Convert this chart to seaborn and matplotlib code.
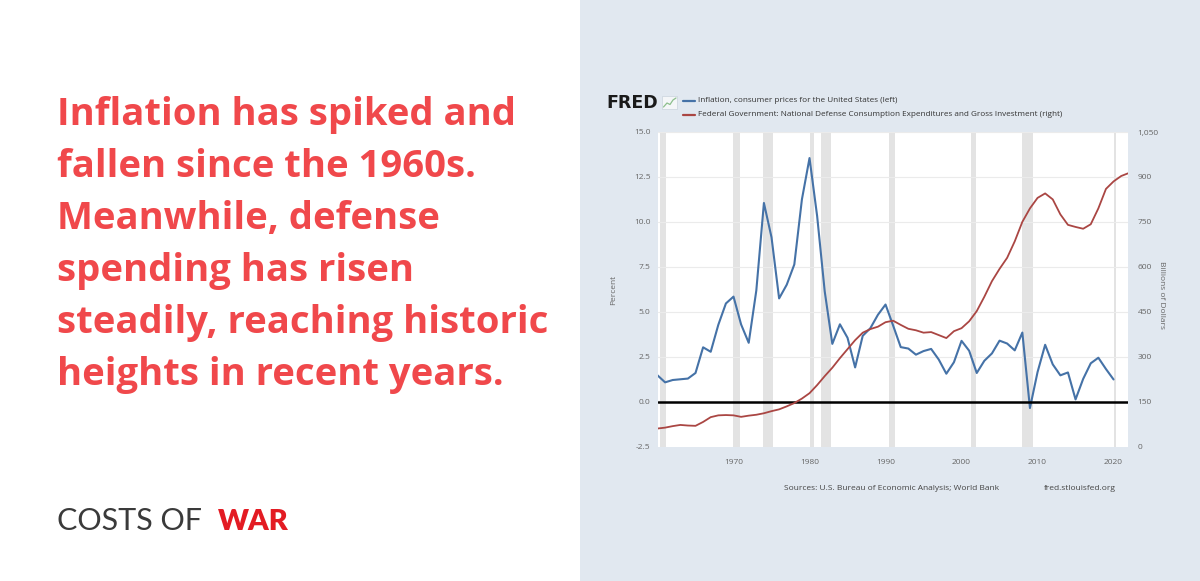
import matplotlib
matplotlib.use("Agg")
import matplotlib.pyplot as plt
import seaborn as sns
import pandas as pd
from matplotlib.patches import Rectangle
from matplotlib.lines import Line2D

# ---------------- data ----------------
infl_years = list(range(1960, 2021))
inflation = [1.46, 1.07, 1.20, 1.24, 1.28, 1.59, 3.02, 2.77, 4.27, 5.46,
             5.84, 4.29, 3.27, 6.18, 11.05, 9.14, 5.74, 6.50, 7.63, 11.25,
             13.55, 10.33, 6.13, 3.21, 4.30, 3.55, 1.90, 3.66, 4.08, 4.83,
             5.40, 4.23, 3.03, 2.95, 2.61, 2.81, 2.93, 2.34, 1.55, 2.19,
             3.38, 2.83, 1.59, 2.27, 2.68, 3.39, 3.23, 2.85, 3.84, -0.36,
             1.64, 3.16, 2.07, 1.46, 1.62, 0.12, 1.26, 2.13, 2.44, 1.81, 1.23]

def_years = list(range(1960, 2022)) + [2021.9]
defense = [60, 63, 68, 72, 70, 69, 82, 98, 104, 105,
           104, 99, 103, 106, 111, 118, 124, 134, 145, 160,
           178, 205, 235, 263, 295, 325, 355, 380, 392, 400,
           415, 420, 406, 393, 388, 380, 382, 372, 362, 385,
           395, 418, 452, 500, 552, 593, 630, 685, 750, 795,
           830, 845, 825, 775, 740, 733, 727, 742, 795, 860,
           885, 903, 912]

recessions = [(1960.3, 1961.1), (1969.9, 1970.85), (1973.85, 1975.2),
              (1980.0, 1980.55), (1981.5, 1982.85), (1990.5, 1991.2),
              (2001.2, 2001.85), (2007.9, 2009.45), (2020.1, 2020.3)]

left_ticks = [-2.5, 0.0, 2.5, 5.0, 7.5, 10.0, 12.5, 15.0]
right_ticks = [0, 150, 300, 450, 600, 750, 900, 1050]
x_ticks = [1970, 1980, 1990, 2000, 2010, 2020]

title_lines = ["Inflation has spiked and",
               "fallen since the 1960s.",
               "Meanwhile, defense",
               "spending has risen",
               "steadily, reaching historic",
               "heights in recent years."]

infl_df = pd.DataFrame({"year": infl_years, "value": inflation})
def_df = pd.DataFrame({"year": def_years, "value": defense})

# ---------------- style ----------------
sns.set_theme(style="white")
plt.rcParams["font.family"] = ["Open Sans", "DejaVu Sans"]

W, H = 1200, 581
fig = plt.figure(figsize=(12, 5.81), dpi=100)
fig.patch.set_facecolor("white")

def fx(x):
    return x / W

def fy(y):
    return 1 - y / H

# right panel background
fig.patches.append(Rectangle((fx(580), 0), 1 - fx(580), 1, transform=fig.transFigure,
                             facecolor="#e1e8f0", edgecolor="none", zorder=-5))

BLUE = "#4572a7"
RED = "#aa4643"
TICK = "#666666"

ax_l, ax_r, ax_t, ax_b = 657.5, 1128, 132, 446.5
ax = fig.add_axes([fx(ax_l), fy(ax_b), fx(ax_r) - fx(ax_l), (ax_b - ax_t) / H])
ax.set_facecolor("white")
ax2 = ax.twinx()

for a, b in recessions:
    ax.axvspan(a, b, color="#e3e3e3", lw=0, zorder=0)
for t in left_ticks[1:]:
    ax.axhline(t, color="#ebebeb", lw=0.8, zorder=0.5)

sns.lineplot(data=infl_df, x="year", y="value", ax=ax, color=BLUE, lw=1.5, zorder=3)
sns.lineplot(data=def_df, x="year", y="value", ax=ax2, color=RED, lw=1.3, zorder=3)
ax.axhline(0, color="black", lw=1.8, zorder=4)

ax.set_xlim(1960, 2021.9)
ax.set_ylim(-2.5, 15)
ax2.set_ylim(0, 1050)
ax.set_xticks(x_ticks)
ax.set_yticks(left_ticks)
ax2.set_yticks(right_ticks)
ax.set_yticklabels([f"{v:.1f}" for v in left_ticks])
ax2.set_yticklabels([f"{v:,}" for v in right_ticks])
ax.set_xlabel("")
ax.set_ylabel("")
ax2.set_ylabel("")
ax.tick_params(axis="both", length=0, labelsize=6, labelcolor=TICK)
ax.tick_params(axis="y", pad=5)
ax.tick_params(axis="x", pad=9)
ax2.tick_params(axis="y", length=0, labelsize=6, labelcolor=TICK, pad=7)
for a_ in (ax, ax2):
    for s in a_.spines.values():
        s.set_visible(False)
ax.grid(False)
ax2.grid(False)

fig.text(fx(614), fy(290), "Percent", rotation=90, ha="center", va="center",
         fontsize=6, color=TICK)
fig.text(fx(1162), fy(295), "Billions of Dollars", rotation=270, ha="center",
         va="center", fontsize=6, color=TICK)

# FRED header & legend
fig.text(fx(606), fy(108), "FRED", fontsize=12.5, fontweight="bold", color="#1a1a1a",
         family=["DejaVu Sans"], va="baseline")
# small FRED graph icon
fig.patches.append(Rectangle((fx(662), fy(109)), fx(15), 13 / H, transform=fig.transFigure,
                             facecolor="#f4f6f8", edgecolor="#c9d3dc", lw=0.5))
fig.lines.append(Line2D([fx(663.5), fx(667), fx(670), fx(673), fx(676)],
                        [fy(107), fy(103), fy(104.5), fy(100), fy(98)],
                        transform=fig.transFigure, color="#8cbf8c", lw=0.9))
fig.lines.append(Line2D([fx(683), fx(695)], [fy(101), fy(101)], transform=fig.transFigure,
                        color=BLUE, lw=1.6))
fig.lines.append(Line2D([fx(683), fx(695)], [fy(115), fy(115)], transform=fig.transFigure,
                        color=RED, lw=1.6))
fig.text(fx(698), fy(101), "Inflation, consumer prices for the United States (left)",
         fontsize=5.9, color="#333333", va="center")
fig.text(fx(698), fy(115),
         "Federal Government: National Defense Consumption Expenditures and Gross Investment (right)",
         fontsize=5.9, color="#333333", va="center")

fig.text(fx(892), fy(489), "Sources: U.S. Bureau of Economic Analysis; World Bank",
         fontsize=6, color="#444444", ha="center", va="center")
fig.text(fx(1080), fy(489), "fred.stlouisfed.org", fontsize=6, color="#444444",
         ha="center", va="center")

# left headline
baselines = [125, 177, 229.5, 281.5, 333.5, 385.5]
for line, yb in zip(title_lines, baselines):
    fig.text(fx(57), fy(yb), line, fontsize=27.5, fontweight="bold", color="#f0484b",
             family=["Open Sans", "DejaVu Sans"], va="baseline", ha="left")

fig.text(fx(57), fy(530), "COSTS OF", fontsize=22, fontweight="normal", color="#3a3a3a",
         family=["Lato", "DejaVu Sans"], va="baseline", ha="left")
fig.text(fx(218), fy(530), "WAR", fontsize=21, fontweight="heavy", color="#e31b23",
         family=["Lato", "DejaVu Sans"], va="baseline", ha="left")

fig.savefig("out.png", dpi=100, facecolor=fig.get_facecolor())
